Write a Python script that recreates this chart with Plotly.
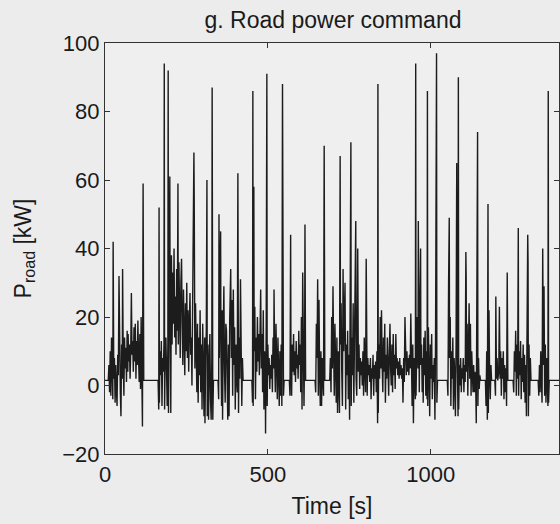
import plotly.graph_objects as go

# Road power command samples: (time [s], power [kW])
samples = [
    (0, 1.5), (10, 1.5), (12, 6), (14, -2), (16, 10), (18, -3), (20, 14), (22, 2), (24, -4), (25, 42),
    (27, 2), (29, 8), (31, -5), (33, 6), (35, -1), (37, -6), (39, 9), (41, 3), (43, 32), (45, 4),
    (47, -2), (49, -9), (51, 12), (53, 2), (54, 34), (56, 8), (58, -3), (60, 14), (62, 5), (64, 11),
    (66, 1), (68, 16), (70, 4), (71, 15), (73, 7), (75, 12), (77, 2), (79, 10), (81, 27), (83, 9),
    (85, 13), (87, 4), (89, 17), (91, 7), (93, 18), (95, 2), (97, 13), (99, 6), (101, 19), (103, 8),
    (105, 1), (107, 15), (109, -1), (111, 20), (113, 3), (115, -12), (117, 59), (119, 1.5), (163, 1.5),
    (165, -7), (166, 52), (167, -5), (169, 10), (171, 3), (173, 13), (175, -6), (177, 8), (179, 4),
    (181, 12), (182, 94), (183, -7), (185, 9), (187, 14), (189, 3), (191, -6), (193, 12), (194, 92),
    (195, -8), (197, 30), (199, 61), (200, 20), (202, -8), (204, 38), (206, 12), (208, 33), (210, 18),
    (212, 40), (214, 14), (216, 26), (218, 9), (220, 34), (222, 16), (224, 59), (225, 12), (227, 36),
    (229, 20), (231, 8), (233, 30), (235, 37), (237, 18), (239, 6), (241, 28), (243, 14), (245, 3),
    (247, 24), (249, 10), (251, 30), (253, 8), (255, 22), (257, 4), (259, 18), (261, 27), (263, 9),
    (265, 14), (267, 0), (269, 20), (271, 26), (273, 68), (274, 53), (276, 5), (278, 24), (280, 8),
    (282, -2), (284, 18), (286, -5), (288, 14), (290, 3), (292, 22), (294, -2), (296, 12), (298, -7),
    (300, 18), (302, 2), (304, -9), (306, 14), (307, -11), (309, 8), (311, 16), (313, 60), (314, -9),
    (316, 12), (318, -10), (320, 6), (322, 15), (324, -4), (326, -10), (328, 8), (329, 87), (331, -10),
    (333, 1.5), (347, 1.5),
    (349, -4), (350, 50), (351, 8), (353, 28), (355, 45), (356, 10), (358, -6), (360, 22), (361, -10),
    (363, 14), (365, 29), (367, 4), (369, -5), (371, 18), (373, 16), (375, 2), (377, -10), (379, 12),
    (381, -9), (383, 20), (386, 34), (388, 8), (390, 25), (392, -3), (394, 28), (396, 6), (398, 17),
    (400, -7), (402, 12), (404, 2), (406, -2), (408, 62), (410, -8), (412, 14), (414, 2), (416, 31),
    (418, 12), (420, -6), (422, 8), (424, 1.5), (451, 1.5),
    (453, -5), (454, 86), (455, -6), (457, 58), (458, 10), (460, 23), (462, -4), (464, 14), (466, 4),
    (468, 20), (470, 7), (472, 15), (474, 3), (476, 12), (478, 28), (480, 5), (482, 15), (484, -2),
    (486, 22), (488, -7), (490, 10), (492, 3), (493, -14), (495, 18), (496, 40), (497, 91), (498, -6),
    (500, 12), (502, 3), (504, 8), (506, -1), (508, 6), (510, 2), (512, 9), (514, -2), (516, 14),
    (518, 5), (519, 28), (521, 8), (523, -2), (525, 18), (527, 6), (529, -4), (531, 14), (533, 2),
    (535, -6), (537, 10), (539, -3), (541, 12), (543, -6), (545, 88), (546, 44), (548, -3), (550, 1.5),
    (566, 1.5), (568, -3), (570, 44), (571, 8), (573, -3), (575, 12), (577, 4), (579, 15), (581, 3),
    (583, 10), (585, 1), (587, 13), (589, 5), (591, 9), (593, 2), (595, 16), (597, 6), (599, 12),
    (601, -2), (603, 20), (605, -7), (607, 33), (609, 8), (611, -6), (613, 12), (614, 47), (616, 1.5),
    (645, 1.5), (647, -2), (649, 18), (651, 8), (653, 31), (655, -3), (657, 25), (659, 4), (661, -6),
    (663, 10), (665, -6), (667, 8), (669, 1.5), (671, -3), (673, 70), (675, 1.5), (690, 1.5),
    (692, 8), (694, -2), (696, 20), (698, 5), (700, 29), (702, 10), (704, -3), (706, 18), (708, 4),
    (710, -5), (712, 14), (714, -8), (716, 10), (718, 2), (720, -8), (721, 36), (722, 67), (723, 12),
    (725, 24), (727, 4), (729, -6), (731, 34), (733, 10), (735, 20), (737, 30), (739, -7), (741, 12),
    (743, 3), (745, 16), (747, -4), (749, 9), (751, -10), (753, 20), (754, 46), (755, 71), (756, -6),
    (758, 14), (760, 3), (762, 24), (764, -5), (766, 11), (768, 30), (770, 48), (771, 2), (773, -3),
    (775, 24), (776, 40), (778, 4), (780, 12), (782, -1), (784, 8), (786, 3), (788, 7), (790, 0),
    (792, 10), (794, -3), (796, 14), (798, 5), (800, -2), (802, 37), (803, 6), (805, -3), (807, 8),
    (809, 3), (811, 6), (813, 1), (815, 8), (817, -4), (819, 5), (821, 2), (823, 9), (825, -3),
    (827, 6), (829, 2), (831, 7), (833, -2), (835, 10), (837, -11), (838, 88), (839, -8), (841, 12),
    (843, 2), (845, 20), (847, 5), (849, 22), (851, 6), (853, -2), (855, 14), (857, 4), (859, 18),
    (861, -5), (863, 9), (865, 2), (867, 14), (869, 4), (871, -3), (873, 10), (875, 18), (877, 5),
    (879, 0), (881, 12), (883, -2), (885, 15), (887, 3), (889, 9), (891, -1), (893, 15), (895, 5),
    (897, 8), (899, 3), (901, 7), (903, 2), (905, 8), (907, 3), (909, 6), (911, 2), (913, 5),
    (915, -5), (917, 8), (919, 1), (921, 20), (923, 6), (925, 3), (927, 10), (929, 4), (931, 8),
    (933, 3), (935, 9), (937, 5), (939, 21), (941, 4), (943, -6), (945, 12), (947, -11),
    (949, 8), (951, 3), (953, -4), (954, 94), (955, -3), (957, 10), (959, 20), (961, 5), (962, 48),
    (963, 14), (965, -2), (967, 22), (969, 40), (970, 6), (972, 12), (974, -2), (976, 8), (977, -5),
    (979, 14), (981, 3), (983, 16), (985, -3), (987, 10), (989, -4), (990, 86), (991, -6), (993, 17),
    (995, 4), (997, -9), (999, 12), (1001, 2), (1003, 15), (1005, -4), (1007, 6), (1009, 1), (1011, 8),
    (1013, -10), (1015, 14), (1017, 69), (1018, 97), (1019, -5), (1021, 1.5), (1051, 1.5),
    (1053, -3), (1055, 30), (1057, 49), (1058, 8), (1060, 20), (1062, -6), (1064, 10), (1066, 2),
    (1068, 14), (1070, -7), (1072, 8), (1074, 3), (1076, -9), (1078, 12), (1080, 65), (1082, 6),
    (1084, -9), (1085, 90), (1086, -7), (1088, 6), (1090, 0), (1092, 8), (1094, -2), (1096, 5),
    (1098, 2), (1100, 8), (1102, -2), (1104, 6), (1106, 1), (1108, 39), (1109, 31), (1110, 4),
    (1112, 18), (1114, -3), (1116, 12), (1118, 24), (1120, 2), (1122, 18), (1124, -3), (1126, 10),
    (1128, 4), (1130, -2), (1132, 6), (1134, -2), (1136, 4), (1138, 1), (1140, -11), (1142, 65),
    (1144, 74), (1145, -6), (1147, 8), (1149, -1), (1151, 3), (1153, 1.5), (1168, 1.5),
    (1170, -6), (1172, 10), (1174, -10), (1176, 53), (1177, -8), (1179, 22), (1181, 3), (1183, -4),
    (1185, 6), (1187, 1.5), (1197, 1.5), (1199, -3), (1200, 26), (1202, 2), (1204, 8), (1206, 1.5),
    (1209, 4), (1211, 23), (1213, 2), (1215, 10), (1217, -3), (1219, 8), (1221, 2), (1223, 10),
    (1225, -4), (1227, 6), (1229, -2), (1231, 5), (1233, -6), (1235, 33), (1237, 1.5), (1253, 1.5),
    (1255, -2), (1257, 10), (1259, 4), (1261, 16), (1263, -3), (1265, 12), (1267, 2), (1269, 46),
    (1270, -3), (1272, 10), (1274, 3), (1276, 13), (1278, -4), (1280, 8), (1282, 1), (1284, 12),
    (1286, -2), (1288, 9), (1290, -5), (1292, 6), (1294, -9), (1296, 10), (1298, 44), (1299, 36),
    (1300, -9), (1302, 12), (1304, -3), (1306, 8), (1308, 1.5), (1330, 1.5), (1332, -3), (1334, 6),
    (1336, -2), (1338, 10), (1340, 2), (1342, -5), (1344, 40), (1346, 6), (1348, 29), (1350, -3),
    (1352, 12), (1354, -5), (1356, 8), (1358, 1.5), (1360, -6), (1361, 86), (1362, -5), (1364, 1.5),
    (1394, 1.5),
]
time_s = [t for t, _ in samples]
p_road_kw = [p for _, p in samples]

x_ticks = [0, 500, 1000]
y_ticks = [-20, 0, 20, 40, 60, 80, 100]
x_range = [0, 1394]
y_range = [-20, 100]

title_text = "g. Road power command"
x_label = "Time [s]"
y_label = "P<sub>road</sub> [kW]"

FONT = "Liberation Sans, Arial, sans-serif"
AX = "#333333"
TXT = "#1a1a1a"

fig = go.Figure(
    go.Scatter(x=time_s, y=p_road_kw, mode="lines",
               line=dict(color="#1c1c1c", width=1.4), hoverinfo="skip")
)

fig.update_layout(
    width=560, height=524,
    margin=dict(l=105, r=1, t=43, b=70),
    paper_bgcolor="#ececec", plot_bgcolor="#efefef",
    showlegend=False,
    font=dict(family=FONT, color=TXT, size=22),
    title=dict(text=title_text, x=333 / 560, xanchor="center", xref="container",
               y=1 - 20 / 524, yanchor="middle", yref="container",
               font=dict(family=FONT, size=23, color=TXT)),
)

fig.update_xaxes(
    range=x_range, tickvals=x_ticks, ticktext=[str(v) for v in x_ticks],
    ticks="inside", ticklen=5, tickcolor=AX, tickwidth=1,
    showline=True, linecolor=AX, linewidth=1.2, mirror="ticks",
    showgrid=False, zeroline=False,
    tickfont=dict(family=FONT, size=22, color=TXT),
    title=dict(text=x_label, font=dict(family=FONT, size=23, color=TXT), standoff=12),
)
fig.update_yaxes(
    range=y_range, tickvals=y_ticks,
    ticks="inside", ticklen=5, tickcolor=AX, tickwidth=1,
    showline=True, linecolor=AX, linewidth=1.2, mirror="ticks",
    showgrid=False, zeroline=False,
    tickfont=dict(family=FONT, size=22, color=TXT),
    title=dict(text=y_label, font=dict(family=FONT, size=23, color=TXT), standoff=24),
)

fig.write_html("out.html")
